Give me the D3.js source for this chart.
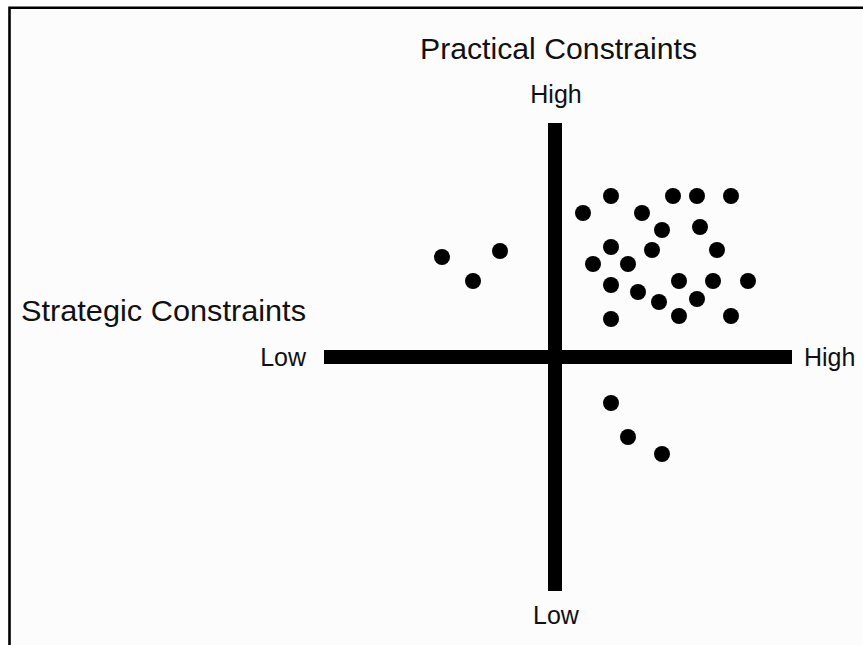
<!DOCTYPE html>
<html>
<head>
<meta charset="utf-8">
<script src="https://cdn.jsdelivr.net/npm/d3@7"></script>
<style>
    body { margin: 0; background: #ffffff; }
    svg text { font-family: "Liberation Sans", Arial, sans-serif; fill: #111; }
</style>
</head>
<body>
<svg id="chart" width="863" height="645"></svg>
<script>
// Strategic constraints (x) vs practical constraints (y), 0 = where the axes cross
const xRange = [-23.1, 23.7];
const yRange = [-23.4, 23.4];

const strategic = [
    -11.3, -5.5, -8.2,
    5.6, 11.8, 14.2, 17.6, 2.8, 8.7, 10.7, 14.5, 5.6, 9.7, 16.2, 3.8, 7.3,
    5.6, 12.4, 15.8, 19.3, 8.3, 10.4, 14.2, 5.6, 12.4, 17.6,
    5.6, 7.3, 10.7
];
const practical = [
    10.0, 10.6, 7.6,
    16.1, 16.1, 16.1, 16.1, 14.4, 14.4, 12.7, 13.0, 11.0, 10.7, 10.7, 9.3, 9.3,
    7.2, 7.6, 7.6, 7.6, 6.5, 5.5, 5.8, 3.8, 4.1, 4.1,
    -4.6, -8.0, -9.7
];

const axisTitles = ["Strategic Constraints", "Practical Constraints"];
const endLabels = ["Low", "High"];

const svg = d3.select("#chart");

// frame (only top and left edges show)
svg.append("rect")
    .attr("x", 9.5).attr("y", 7.7)
    .attr("width", 900).attr("height", 700)
    .attr("fill", "#fcfcfc");
svg.append("path")
    .attr("d", "M9.5,645 L9.5,7.7 L863,7.7")
    .attr("fill", "none")
    .attr("stroke", "#000")
    .attr("stroke-width", 2.6);

const x = d3.scaleLinear().domain(xRange).range([324, 792]);
const y = d3.scaleLinear().domain(yRange).range([591, 123]);

// the two thick axes
svg.append("line")
    .attr("x1", x(xRange[0])).attr("x2", x(xRange[1]))
    .attr("y1", y(0)).attr("y2", y(0))
    .attr("stroke", "#000").attr("stroke-width", 14);
svg.append("line")
    .attr("x1", x(0)).attr("x2", x(0))
    .attr("y1", y(yRange[0])).attr("y2", y(yRange[1]))
    .attr("stroke", "#000").attr("stroke-width", 14);

// points
svg.selectAll("circle.pt")
    .data(strategic.map((d, i) => ({sx: d, py: practical[i]})))
    .enter()
    .append("circle")
    .attr("class", "pt")
    .attr("cx", d => x(d.sx))
    .attr("cy", d => y(d.py))
    .attr("r", 8)
    .attr("fill", "#000");

// axis titles
svg.append("text")
    .attr("x", 21).attr("y", 321)
    .attr("font-size", 30)
    .attr("textLength", 285)
    .attr("lengthAdjust", "spacingAndGlyphs")
    .text(axisTitles[0]);
svg.append("text")
    .attr("x", 420).attr("y", 59)
    .attr("font-size", 30)
    .attr("textLength", 277)
    .attr("lengthAdjust", "spacingAndGlyphs")
    .text(axisTitles[1]);

// end labels
svg.append("text")
    .attr("x", x(xRange[0]) - 18).attr("y", 366)
    .attr("text-anchor", "end")
    .attr("font-size", 25)
    .text(endLabels[0]);
svg.append("text")
    .attr("x", x(xRange[1]) + 12).attr("y", 366)
    .attr("font-size", 25)
    .text(endLabels[1]);
svg.append("text")
    .attr("x", x(0) + 1).attr("y", 103)
    .attr("text-anchor", "middle")
    .attr("font-size", 25)
    .text(endLabels[1]);
svg.append("text")
    .attr("x", x(0) + 1).attr("y", 624)
    .attr("text-anchor", "middle")
    .attr("font-size", 25)
    .text(endLabels[0]);
</script>
</body>
</html>
